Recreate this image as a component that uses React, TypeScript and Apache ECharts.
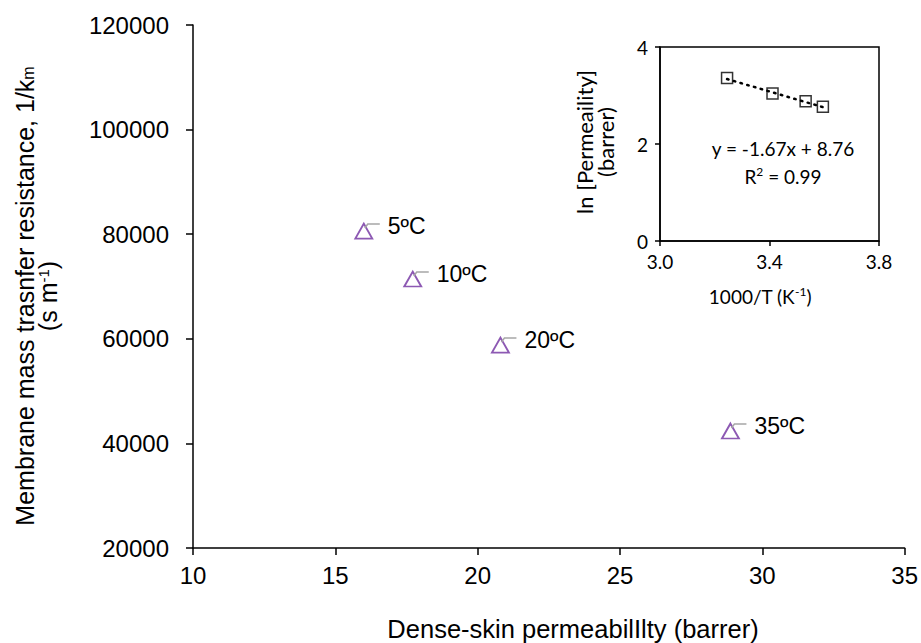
import React, { useEffect, useRef } from "react";
import * as echarts from "echarts";

// Main chart data
const tempLabels = ["5ºC", "10ºC", "20ºC", "35ºC"];
const permeability = [16.0, 17.72, 20.8, 28.88];
const resistance = [80600, 71430, 58800, 42370];

// Inset data
const invT = [3.595, 3.532, 3.411, 3.245];
const lnPerm = [2.77, 2.88, 3.04, 3.36];
const trendX = [3.245, 3.595];
const trendY = [3.34, 2.76];
const trendEq = "y = -1.67x + 8.76";
const trendR2 = "0.99";

const ARIAL = "'Liberation Sans', Arial, sans-serif";
const CAL = "Lato, 'Open Sans', sans-serif";

export default function App() {
  const ref = useRef<HTMLDivElement>(null);
  useEffect(() => {
    if (!ref.current) return;
    const chart = echarts.init(ref.current, null, { renderer: "svg" });
    const option: any = {
      animation: false,
      backgroundColor: "#fff",
      grid: [
        { left: 193, top: 25, width: 713, height: 523, containLabel: false },
        {
          left: 660, top: 47, width: 219, height: 194, containLabel: false,
          show: true, borderColor: "#000", borderWidth: 1.5, backgroundColor: "#fff", z: 5,
        },
      ],
      xAxis: [
        {
          gridIndex: 0, type: "value", min: 10, max: 35, interval: 5,
          axisLine: { lineStyle: { color: "#000", width: 1.5 } },
          axisTick: { show: true, inside: false, length: 7, lineStyle: { color: "#000", width: 1.5 } },
          axisLabel: { color: "#000", fontSize: 24, fontFamily: ARIAL, margin: 15 },
          splitLine: { show: false },
        },
        {
          gridIndex: 1, type: "value", min: 3.0, max: 3.8, interval: 0.4,
          axisLine: { lineStyle: { color: "#000", width: 1.5 } },
          axisTick: { show: true, inside: false, length: 5, lineStyle: { color: "#000", width: 1.5 } },
          axisLabel: { color: "#000", fontSize: 19, fontFamily: CAL, margin: 11, formatter: (v: number) => v.toFixed(1) },
          splitLine: { show: false },
          z: 6,
        },
      ],
      yAxis: [
        {
          gridIndex: 0, type: "value", min: 20000, max: 120000, interval: 20000,
          axisLine: { show: true, lineStyle: { color: "#000", width: 1.5 } },
          axisTick: { show: true, inside: false, length: 7, lineStyle: { color: "#000", width: 1.5 } },
          axisLabel: { color: "#000", fontSize: 24, fontFamily: ARIAL, margin: 24, formatter: (v: number) => String(v) },
          splitLine: { show: false },
        },
        {
          gridIndex: 1, type: "value", min: 0, max: 4, interval: 2,
          axisLine: { show: true, lineStyle: { color: "#000", width: 1.5 } },
          axisTick: { show: true, inside: false, length: 5, lineStyle: { color: "#000", width: 1.5 } },
          axisLabel: { color: "#000", fontSize: 19, fontFamily: CAL, margin: 12 },
          splitLine: { show: false },
          z: 6,
        },
      ],
      series: [
        {
          type: "scatter",
          xAxisIndex: 0, yAxisIndex: 0,
          data: permeability.map((p, i) => [p, resistance[i]]),
          symbol: "triangle",
          symbolSize: [17, 15],
          itemStyle: { color: "#fff", borderColor: "#7030A0", borderWidth: 1.8 },
          z: 3,
        },
        {
          type: "custom",
          xAxisIndex: 0, yAxisIndex: 0,
          data: permeability.map((p, i) => [p, resistance[i]]),
          z: 4,
          renderItem: (params: any, api: any) => {
            const pt = api.coord([api.value(0), api.value(1)]);
            return {
              type: "group",
              children: [
                {
                  type: "polyline",
                  shape: { points: [[pt[0] + 1, pt[1] - 3], [pt[0] + 4, pt[1] - 7], [pt[0] + 16, pt[1] - 7]] },
                  style: { stroke: "#a6a6a6", lineWidth: 1.5, fill: "none" },
                },
                {
                  type: "text",
                  x: pt[0] + 24, y: pt[1] - 5,
                  style: {
                    text: tempLabels[params.dataIndex], fill: "#000", fontSize: 23, fontFamily: ARIAL,
                    align: "left", verticalAlign: "middle",
                  },
                },
              ],
            };
          },
        },
        {
          type: "line",
          xAxisIndex: 1, yAxisIndex: 1,
          data: trendX.map((x, i) => [x, trendY[i]]),
          showSymbol: false, symbol: "none",
          lineStyle: { color: "#000", width: 2.5, type: [1.5, 5.5], cap: "round" },
          z: 7,
        },
        {
          type: "scatter",
          xAxisIndex: 1, yAxisIndex: 1,
          data: invT.map((x, i) => [x, lnPerm[i]]),
          symbol: "rect",
          symbolSize: 11,
          itemStyle: { color: "rgba(0,0,0,0)", borderColor: "#000", borderWidth: 1.5 },
          z: 8,
        },
      ],
      graphic: [
        {
          type: "text", x: 573, y: 629, z: 10,
          style: { text: "Dense-skin permeabilIlty (barrer)", fontSize: 25.5, fontFamily: ARIAL, fill: "#000", align: "center", verticalAlign: "middle" },
        },
        {
          type: "text", x: 36, y: 296, rotation: Math.PI / 2, z: 10,
          style: {
            text: "{n|Membrane mass trasnfer resistance, 1/k}{sub|m}\n{n|(s m}{sup|-1}{n|)}",
            align: "center", verticalAlign: "middle", fill: "#000",
            rich: {
              n: { fontSize: 25, fontFamily: ARIAL, lineHeight: 23, fill: "#000" },
              sub: { fontSize: 16, fontFamily: ARIAL, lineHeight: 12, verticalAlign: "bottom", fill: "#000" },
              sup: { fontSize: 15, fontFamily: ARIAL, lineHeight: 12, verticalAlign: "top", fill: "#000" },
            },
          },
        },
        {
          type: "text", x: 595, y: 142, rotation: Math.PI / 2, z: 10,
          style: {
            text: "ln [Permeaility]\n(barrer)", fontSize: 22, fontFamily: CAL, lineHeight: 21,
            fill: "#000", align: "center", verticalAlign: "middle",
          },
        },
        {
          type: "text", x: 760, y: 296, z: 10,
          style: {
            text: "{n|1000/T (K}{sup|-1}{n|)}", align: "center", verticalAlign: "middle", fill: "#000",
            rich: {
              n: { fontSize: 19, fontFamily: CAL, lineHeight: 22, fill: "#000" },
              sup: { fontSize: 12, fontFamily: CAL, lineHeight: 12, verticalAlign: "top", fill: "#000" },
            },
          },
        },
        {
          type: "text", x: 783, y: 148, z: 10,
          style: { text: trendEq, fontSize: 19, fontFamily: CAL, fill: "#000", align: "center", verticalAlign: "middle" },
        },
        {
          type: "text", x: 783, y: 176, z: 10,
          style: {
            text: "{n|R}{sup|2}{n| = " + trendR2 + "}", align: "center", verticalAlign: "middle", fill: "#000",
            rich: {
              n: { fontSize: 19, fontFamily: CAL, lineHeight: 22, fill: "#000" },
              sup: { fontSize: 12, fontFamily: CAL, lineHeight: 12, verticalAlign: "top", fill: "#000" },
            },
          },
        },
      ],
    };
    chart.setOption(option);
    return () => chart.dispose();
  }, []);
  return (
    <div
      ref={ref}
      style={{ position: "fixed", left: 0, top: 0, width: 921, height: 643, background: "#fff" }}
    />
  );
}
